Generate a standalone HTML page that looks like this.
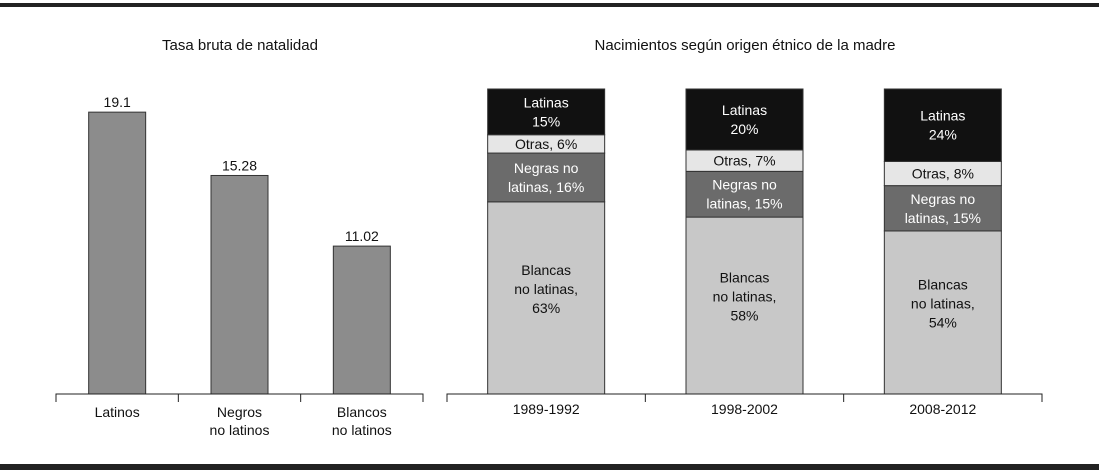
<!DOCTYPE html>
<html><head><meta charset="utf-8"><style>
html,body{margin:0;padding:0;background:#fff;width:1099px;height:470px;overflow:hidden}
svg text{font-family:"Liberation Sans",Arial,sans-serif;fill:#111}
</style></head><body>
<svg id="chart" width="1099" height="470" xmlns="http://www.w3.org/2000/svg">
<rect x="0" y="3" width="1099" height="4" fill="#222"/>
<rect x="0" y="464" width="1099" height="6" fill="#222"/>
<text x="240" y="50" font-size="15" text-anchor="middle">Tasa bruta de natalidad</text>
<text x="745" y="50" font-size="15" text-anchor="middle">Nacimientos según origen étnico de la madre</text>
<g id="left"></g>
<g id="right"></g>
</svg>
<script>
const rateCategories=[["Latinos"],["Negros","no latinos"],["Blancos","no latinos"]];
const rateValues=[19.1,15.28,11.02];
const rateLabels=["19.1","15.28","11.02"];
const periods=["1989-1992","1998-2002","2008-2012"];
const blancas=[63,58,54];
const negras=[16,15,15];
const otras=[6,7,8];
const latinas=[15,20,24];

const NS="http://www.w3.org/2000/svg";
function mk(parent,tag,attrs,text){const e=document.createElementNS(NS,tag);for(const k in attrs)e.setAttribute(k,attrs[k]);if(text!==undefined)e.textContent=text;parent.appendChild(e);return e;}

// left chart
const L=document.getElementById('left');
const base=394, lx0=56, lx1=423, yMin=2.1, pxPerUnit=16.58;
const yL=v=>base-(v-yMin)*pxPerUnit;
const lw=(lx1-lx0)/rateValues.length;
const xL=i=>lx0+lw*(i+0.5);
rateValues.forEach((v,i)=>{
  const r=mk(L,'rect',{x:xL(i)-28.5,y:yL(v),width:57,height:base-yL(v),fill:'#8c8c8c',stroke:'#333','stroke-width':1});
  
  
  const t=mk(L,'text',{x:xL(i),y:yL(v)-5,'font-size':14,'text-anchor':'middle'},rateLabels[i]);
  
  
  rateCategories[i].forEach((ln,j)=>{
    const c=mk(L,'text',{x:xL(i),y:417+j*18,'font-size':14,'text-anchor':'middle'},ln);
    
    
  });
});
const la=mk(L,'path',{d:`M${lx0} ${base+8}V${base}H${lx1}V${base+8}`+[1,2].map(k=>`M${lx0+lw*k} ${base}v8`).join(''),stroke:'#222',fill:'none','stroke-width':1});



// right chart
const R=document.getElementById('right');
const rx0=447, rx1=1042, H=305;
const rw=(rx1-rx0)/periods.length;
const xR=i=>rx0+rw*(i+0.5);
const segs=[
 {name:'blancas',data:blancas,fill:'#c8c8c8',tc:'#111',lab:v=>["Blancas","no latinas,",v+"%"],off:-9},
 {name:'negras',data:negras,fill:'#6b6b6b',tc:'#fff',lab:v=>["Negras no","latinas, "+v+"%"],off:0},
 {name:'otras',data:otras,fill:'#e6e6e6',tc:'#111',lab:v=>["Otras, "+v+"%"],off:0},
 {name:'latinas',data:latinas,fill:'#111',tc:'#fff',lab:v=>["Latinas",v+"%"],off:0}
];
periods.forEach((p,i)=>{
  const total=segs.reduce((s,g)=>s+g.data[i],0);
  let y=base;
  segs.forEach(g=>{
    const h=g.data[i]/total*H;
    const r=mk(R,'rect',{x:xR(i)-58.5,y:y-h,width:117,height:h,fill:g.fill,stroke:'#333','stroke-width':1});
    
    
    const lines=g.lab(g.data[i]);
    const cy=y-h/2+g.off, lh=19;
    lines.forEach((ln,j)=>{
      const t=mk(R,'text',{x:xR(i),y:cy+(j-(lines.length-1)/2)*lh+5,'font-size':14,'text-anchor':'middle',style:'fill:'+g.tc},ln);
      
      
    });
    y-=h;
  });
  const t=mk(R,'text',{x:xR(i),y:414,'font-size':14,'text-anchor':'middle'},p);
  
  
});
const ra=mk(R,'path',{d:`M${rx0} ${base+8}V${base}H${rx1}V${base+8}`+[1,2].map(k=>`M${rx0+rw*k} ${base}v8`).join(''),stroke:'#222',fill:'none','stroke-width':1});


</script>
</body></html>
